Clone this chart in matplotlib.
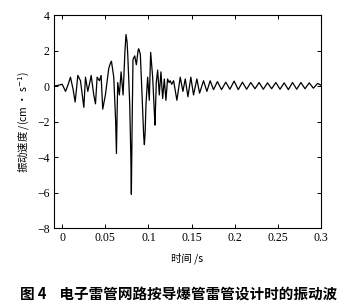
import matplotlib
matplotlib.use("Agg")
import matplotlib.pyplot as plt

# Time (s) and vibration velocity (cm/s)
t_main = [-0.0095, -0.0040, 0.0000, 0.0039, 0.0070, 0.0096, 0.0127, 0.0150, 0.0165, 0.0181,
          0.0212, 0.0251, 0.0270, 0.0297, 0.0320, 0.0336, 0.0366, 0.0386, 0.0405, 0.0432,
          0.0451, 0.0470, 0.0501, 0.0540, 0.0560, 0.0571, 0.0598, 0.0620, 0.0629, 0.0637,
          0.0644, 0.0663, 0.0683, 0.0706, 0.0728, 0.0740, 0.0752, 0.0760, 0.0783, 0.0796,
          0.0802, 0.0810, 0.0821, 0.0841, 0.0860, 0.0880, 0.0887, 0.0906, 0.0926, 0.0945,
          0.0953, 0.0962, 0.0972, 0.0991, 0.1010, 0.1026, 0.1049, 0.1070, 0.1076, 0.1091,
          0.1107, 0.1126, 0.1145, 0.1165, 0.1184, 0.1203, 0.1222, 0.1240, 0.1253, 0.1270,
          0.1292, 0.1330, 0.1369, 0.1400, 0.1427, 0.1458, 0.1492, 0.1523, 0.1562, 0.1593,
          0.1639, 0.1678, 0.1716, 0.1755]
v_main = [0.00, 0.05, 0.10, -0.30, 0.10, 0.50, -0.20, -0.90, -0.20, 0.60,
          0.30, -1.20, 0.50, -0.30, 0.20, 0.60, -0.50, -1.00, 0.50, 0.30,
          0.60, -1.30, -0.50, 1.00, 1.30, 1.40, 0.50, -2.00, -3.80, -1.50,
          0.20, -0.50, 0.80, -0.50, 2.00, 2.90, 2.50, 1.80, -1.00, -4.00,
          -6.10, -2.50, 1.50, 1.70, 1.20, 2.00, 2.10, 1.80, -0.50, -2.80,
          -3.30, -2.60, -1.00, 0.50, -0.80, 1.90, 0.50, -1.60, -2.20, 0.20,
          0.90, -0.50, 0.80, -0.70, 0.40, -0.80, 0.40, 0.20, 0.30, 0.10,
          0.30, -0.80, 0.50, -0.30, 0.40, -0.60, 0.50, -0.50, 0.40, -0.40,
          0.30, -0.30, 0.30, -0.20]

t_tail = [0.1800, 0.1848, 0.1897, 0.1945, 0.1994, 0.2042, 0.2090, 0.2139, 0.2187, 0.2236,
          0.2284, 0.2332, 0.2381, 0.2429, 0.2478, 0.2526, 0.2574, 0.2623, 0.2671, 0.2720,
          0.2768, 0.2816, 0.2865, 0.2913, 0.2962, 0.3000]
v_tail = [0.25, -0.20, 0.22, -0.18, 0.28, -0.20, 0.22, -0.18, 0.20, -0.15,
          0.20, -0.18, 0.18, -0.15, 0.20, -0.18, 0.18, -0.20, 0.20, -0.18,
          0.20, -0.15, 0.18, -0.12, 0.15, 0.05]

x_ticks = [0, 0.05, 0.1, 0.15, 0.2, 0.25, 0.3]
x_ticklabels = ["0", "0.05", "0.1", "0.15", "0.2", "0.25", "0.3"]
y_ticks = [-8, -6, -4, -2, 0, 2, 4]
y_ticklabels = ["\u22128", "\u22126", "\u22124", "\u22122", "0", "2", "4"]

cjk = ["Noto Sans CJK SC", "DejaVu Sans"]

fig = plt.figure(figsize=(3.53, 3.07), dpi=100)
ax = fig.add_axes([0.153, 0.257, 0.756, 0.694])
ax.plot(t_main + t_tail, v_main + v_tail, color="black", lw=0.9)
ax.set_xlim(-0.0095, 0.3)
ax.set_ylim(-8, 4)
ax.set_xticks(x_ticks)
ax.set_xticklabels(x_ticklabels, family="Liberation Serif", fontsize=8.5)
ax.set_yticks(y_ticks)
ax.set_yticklabels(y_ticklabels, family="Liberation Serif", fontsize=8.5)
ax.tick_params(direction="in", top=True, right=True, length=3, width=0.7, pad=3)
for s in ax.spines.values():
    s.set_linewidth(0.8)

ax.set_xlabel("时间 /s", family=cjk, fontsize=7.5, labelpad=6)
ax.set_ylabel("振动速度 /(cm · s$^{-1}$)", family=cjk, fontsize=7.5, labelpad=4)

fig.text(0.505, 0.045, "图 4    电子雷管网路按导爆管雷管设计时的振动波",
         family=cjk, fontsize=10.5, fontweight="bold", ha="center", va="center")

fig.savefig("out.png", dpi=100)
